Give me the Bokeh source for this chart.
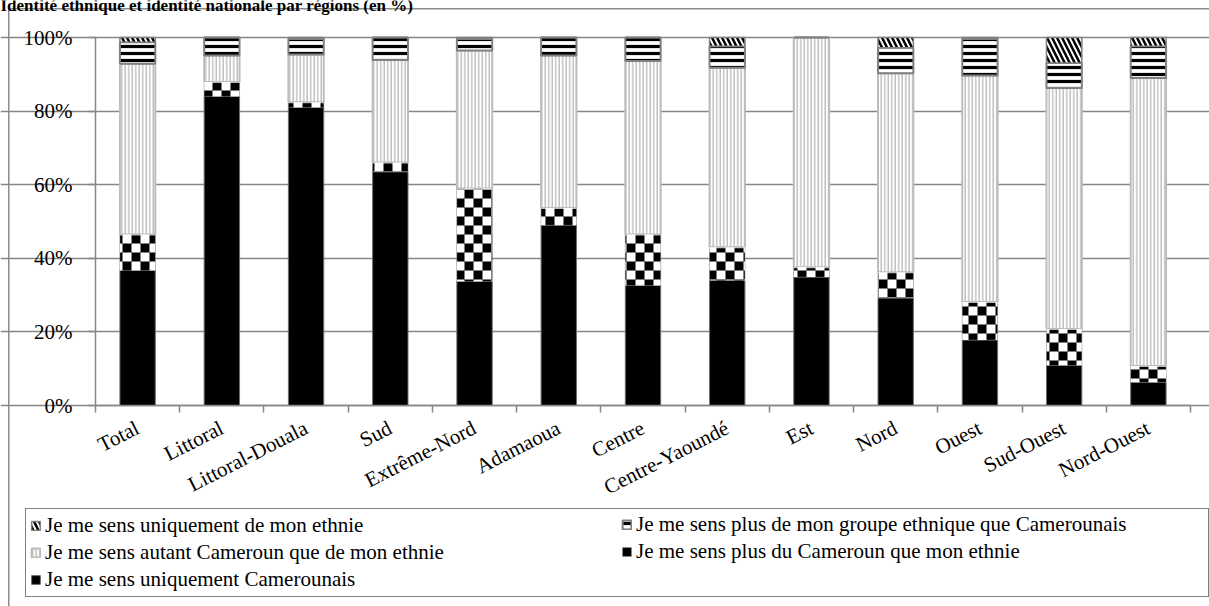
import numpy as np
from bokeh.plotting import figure
from bokeh.models import (Range1d, LinearAxis, FixedTicker, CustomJSTickFormatter,
                          Legend, LegendItem, Label,
                          PrintfTickFormatter, ColumnDataSource, Grid)
from bokeh.embed import file_html
from bokeh.resources import INLINE

# ---------------- data (percent) ----------------
categories = ["Total", "Littoral", "Littoral-Douala", "Sud", "Extrême-Nord", "Adamaoua",
              "Centre", "Centre-Yaoundé", "Est", "Nord", "Ouest", "Sud-Ouest", "Nord-Ouest"]
uniquement_camerounais = [36.7, 84.0, 81.0, 63.5, 33.7, 49.0, 32.6, 34.0, 34.9, 29.2, 17.8, 10.9, 6.3]
plus_cameroun = [9.8, 3.9, 1.4, 2.5, 25.3, 4.7, 13.9, 9.0, 2.7, 7.0, 10.3, 9.9, 4.4]
autant = [46.4, 7.2, 13.0, 27.9, 37.5, 41.4, 47.1, 48.8, 62.4, 54.1, 61.6, 65.5, 78.3]
plus_ethnique = [5.8, 4.9, 4.2, 6.1, 3.1, 4.9, 6.4, 5.8, 0.0, 6.9, 9.9, 6.8, 8.6]
uniquement_ethnie = [1.3, 0.0, 0.4, 0.0, 0.4, 0.0, 0.0, 2.4, 0.0, 2.8, 0.4, 6.9, 2.4]

series_labels = ["Je me sens uniquement Camerounais",
                 "Je me sens plus du Cameroun que mon ethnie",
                 "Je me sens autant Cameroun que de mon ethnie",
                 "Je me sens plus de mon groupe ethnique que Camerounais",
                 "Je me sens uniquement de mon ethnie"]
y_ticks = [0, 20, 40, 60, 80, 100]
title_text = "Identité ethnique et identité nationale par régions (en %)"

# ---------------- layout constants (pixels) ----------------
FONT = "Liberation Serif"
GRAY = "#868686"
W, H = 1209, 606
PLOT_L, PLOT_R, PLOT_T, PLOT_B = 95, 1190, 37, 405
n = len(categories)
px_cat = (PLOT_R - PLOT_L) / n
px_pct = (PLOT_B - PLOT_T) / 100.0
BAR_W = 0.42

# the frame covers the whole canvas; axes are drawn inside it at fixed locations
p = figure(x_range=Range1d(-PLOT_L / px_cat, n + (W - PLOT_R) / px_cat),
           y_range=Range1d(-(H - PLOT_B) / px_pct, 100 + PLOT_T / px_pct),
           width=W, height=H, output_backend="svg", toolbar_location=None,
           x_axis_location=None, y_axis_location=None,
           min_border=0, min_border_left=0, min_border_right=0,
           min_border_top=0, min_border_bottom=0)
p.styles = {"background": ("linear-gradient(#8c8c8c, #8c8c8c) 8px 8px / 1.5px 100% no-repeat, "
                           "linear-gradient(#8c8c8c, #8c8c8c) 8px 8px / 100% 1.5px no-repeat, white")}
p.outline_line_color = None
p.background_fill_color = None
p.border_fill_color = None
for g in p.grid:
    g.visible = False

# y axis
yax = LinearAxis(fixed_location=0, bounds=(0, 100),
                 ticker=FixedTicker(ticks=y_ticks), formatter=PrintfTickFormatter(format="%d%%"),
                 axis_line_color=GRAY, axis_line_width=1.5,
                 major_tick_line_color=GRAY, major_tick_line_width=1.5,
                 major_tick_out=7, major_tick_in=0, minor_tick_line_color=None,
                 major_label_text_font=FONT, major_label_text_font_size="21px",
                 major_label_text_color="black", major_label_standoff=16)
p.add_layout(yax, "left")
p.add_layout(Grid(dimension=1, ticker=FixedTicker(ticks=y_ticks), bounds=(0, n),
                  grid_line_color=GRAY, grid_line_width=1.5))

# x axis: ticks at category boundaries
tick_axis = LinearAxis(fixed_location=0, bounds=(0, n),
                       ticker=FixedTicker(ticks=list(range(n + 1))),
                       axis_line_color=GRAY, axis_line_width=1.5,
                       major_tick_line_color=GRAY, major_tick_line_width=1.5,
                       major_tick_out=7, major_tick_in=0, minor_tick_line_color=None,
                       major_label_text_color=None, major_label_text_font_size="1px",
                       major_label_standoff=0)
p.add_layout(tick_axis, "below")
# x axis: category names at category centres
centres = [i + 0.5 for i in range(n)]
cat_axis = LinearAxis(fixed_location=0, ticker=FixedTicker(ticks=centres),
                      formatter=CustomJSTickFormatter(args=dict(cats=categories),
                                                      code="return cats[Math.floor(tick)];"),
                      axis_line_color=None, major_tick_line_color=None,
                      minor_tick_line_color=None, major_tick_out=0, major_tick_in=0,
                      major_label_orientation=0.47, major_label_standoff=21,
                      major_label_text_font=FONT, major_label_text_font_size="21px",
                      major_label_text_color="black")
p.add_layout(cat_axis, "below")

# ---------------- stacked bars ----------------
series = [uniquement_camerounais, plus_cameroun, autant, plus_ethnique, uniquement_ethnie]
styles = [
    dict(fill_color="black", line_color="#6e6e6e", line_width=1),
    dict(fill_color="black", line_color="#6e6e6e", line_width=0.5),   # checker base
    dict(fill_color="white", hatch_pattern="vertical_line", hatch_color="#bdbdbd",
         hatch_scale=3.5, hatch_weight=1.4, line_color="#bdbdbd", line_width=2),
    dict(fill_color="white", hatch_pattern="horizontal_line", hatch_color="black",
         hatch_scale=7, hatch_weight=3.2, line_color="#808080", line_width=2),
    dict(fill_color="white", hatch_pattern="left_diagonal_line", hatch_color="black",
         hatch_scale=10, hatch_weight=2.5, line_color="#808080", line_width=1.5),
]

bottom = np.zeros(n)
bottoms = []
renderers = []
for vals, st in zip(series, styles):
    vals = np.array(vals, dtype=float)
    bottoms.append(bottom.copy())
    src = ColumnDataSource(dict(x=centres, cat=categories, bottom=bottom.copy(), top=bottom + vals))
    r = p.vbar(x="x", bottom="bottom", top="top", width=BAR_W, source=src, **st)
    renderers.append(r)
    bottom = bottom + vals

# checkerboard texture of the "plus du Cameroun" segments: white cells on the black base
CELL_PX = 9
dx, dy = CELL_PX / px_cat, CELL_PX / px_pct
cl, cr, cb, ct = [], [], [], []
seg_lo = bottoms[1]
seg_hi = bottoms[1] + np.array(plus_cameroun, dtype=float)
for i in range(n):
    x0, x1 = centres[i] - BAR_W / 2, centres[i] + BAR_W / 2
    y0, y1 = seg_lo[i], seg_hi[i]
    if y1 <= y0:
        continue
    for j in range(int(np.floor(x0 / dx)), int(np.ceil(x1 / dx))):
        for k in range(int(np.floor(y0 / dy)), int(np.ceil(y1 / dy))):
            if (j + k) % 2:
                l, r_ = max(j * dx, x0), min((j + 1) * dx, x1)
                b, t = max(k * dy, y0), min((k + 1) * dy, y1)
                if r_ > l and t > b:
                    cl.append(l); cr.append(r_); cb.append(b); ct.append(t)
p.quad(left=cl, right=cr, bottom=cb, top=ct, fill_color="white", line_color=None)

# ---------------- legend (two columns, one framed box) ----------------
LEG_LEFT, LEG_BOTTOM, LEG_WIDTH, COL2_LEFT = 25, 9, 1182, 621
ROW_H, SPACING, PAD, GLYPH, STANDOFF = 25, 2, 4, 11, 4
COL2_SHIFT = 33
leg_common = dict(label_height=ROW_H, glyph_width=GLYPH, glyph_height=GLYPH,
                  label_standoff=STANDOFF, padding=PAD, spacing=SPACING, margin=0,
                  label_text_font=FONT, label_text_font_size="21px", label_text_color="black")
col1 = [4, 2, 0]
col2 = [3, 1]
legend1 = Legend(items=[LegendItem(label=series_labels[i], renderers=[renderers[i]]) for i in col1],
                 location=(LEG_LEFT, LEG_BOTTOM),
                 label_width=LEG_WIDTH - 2 * PAD - GLYPH - STANDOFF,
                 border_line_color="black", border_line_width=1.5,
                 background_fill_color="white", background_fill_alpha=1, **leg_common)
legend2 = Legend(items=[LegendItem(label=series_labels[i], renderers=[renderers[i]]) for i in col2],
                 location=(COL2_LEFT, LEG_BOTTOM + COL2_SHIFT),
                 border_line_color=None, background_fill_alpha=0, **leg_common)
p.add_layout(legend1, "center")
p.add_layout(legend2, "center")

# ---------------- title (partly above the page, as in the source) ----------------
p.add_layout(Label(x=0, y=H - 5, x_units="screen", y_units="screen", text=title_text,
                   text_font=FONT, text_font_style="bold", text_font_size="17px",
                   text_baseline="alphabetic", text_align="left", text_color="black"))

open("out.html", "w").write(file_html(p, INLINE))
